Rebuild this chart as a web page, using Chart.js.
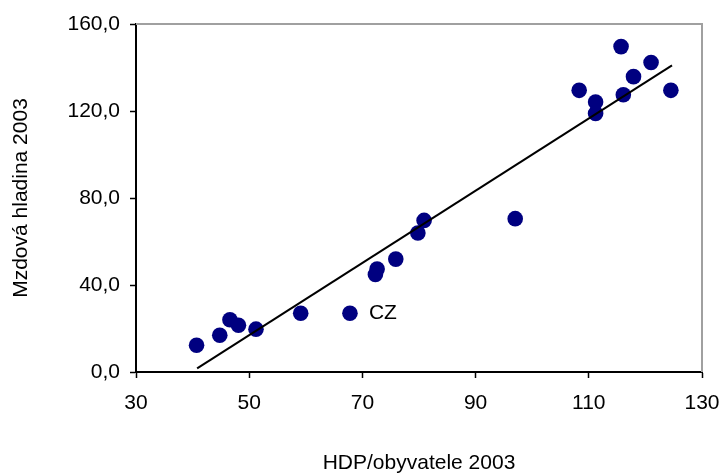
<!DOCTYPE html>
<html>
<head>
<meta charset="utf-8">
<script src="https://cdn.jsdelivr.net/npm/chart.js@4"></script>
<style>
  html, body { margin: 0; padding: 0; background: #fff; }
  #graf { display: block; }
</style>
</head>
<body>
<canvas id="graf" width="721" height="474"></canvas>
<script>
// HDP na obyvatele 2003 (x) a mzdová hladina 2003 (y)
const hdp = [40.7, 44.8, 46.6, 48.1, 51.2, 59.1, 67.8, 72.3, 72.6, 75.9, 79.8,
             80.9, 97.0, 108.3, 111.2, 111.2, 115.7, 116.1, 117.9, 121.0, 124.5];
const mzdy = [12.3, 16.9, 24.0, 21.5, 19.7, 27.0, 27.0, 44.8, 47.3, 51.9, 63.9,
              69.7, 70.5, 129.5, 124.1, 118.9, 149.6, 127.5, 135.8, 142.3, 129.5];
const popisky = ['', '', '', '', '', '', 'CZ', '', '', '', '',
                 '', '', '', '', '', '', '', '', '', ''];

// koncové body lineárního trendu
const trendX = [40.8, 124.7];
const trendY = [1.7, 141.0];

const xTicks = [30, 50, 70, 90, 110, 130];
const yTicks = [0, 40, 80, 120, 160];

const font = { family: '"Liberation Sans", Arial, sans-serif', size: 21 };

// šedý rámeček nahoře a vpravo
const ramecek = {
    id: 'ramecek',
    beforeDatasetsDraw(chart) {
        const { ctx, chartArea: a } = chart;
        ctx.save();
        ctx.strokeStyle = '#a0a0a0';
        ctx.lineWidth = 2;
        ctx.beginPath();
        ctx.moveTo(a.left, a.top);
        ctx.lineTo(a.right, a.top);
        ctx.lineTo(a.right, a.bottom);
        ctx.stroke();
        ctx.restore();
    }
};

// popisek CZ vedle bodu
const popisBodu = {
    id: 'popisBodu',
    afterDatasetsDraw(chart) {
        const meta = chart.getDatasetMeta(1);
        const ctx = chart.ctx;
        ctx.save();
        ctx.font = font.size + 'px ' + font.family;
        ctx.fillStyle = '#000';
        ctx.textAlign = 'left';
        ctx.textBaseline = 'middle';
        popisky.forEach((t, i) => {
            if (!t) return;
            const p = meta.data[i];
            ctx.fillText(t, p.x + 19, p.y);
        });
        ctx.restore();
    }
};

new Chart(document.getElementById('graf'), {
    type: 'scatter',
    data: {
        datasets: [
            {
                type: 'line',
                data: trendX.map((x, i) => ({ x: x, y: trendY[i] })),
                borderColor: '#000',
                borderWidth: 2,
                pointRadius: 0,
                fill: false,
                order: 0
            },
            {
                data: hdp.map((x, i) => ({ x: x, y: mzdy[i] })),
                backgroundColor: '#000080',
                borderWidth: 0,
                pointRadius: 7.8,
                order: 1
            }
        ]
    },
    options: {
        responsive: false,
        animation: false,
        devicePixelRatio: 1,
        layout: { padding: { top: 24, right: 19, left: 0, bottom: 0 } },
        plugins: {
            legend: { display: false },
            tooltip: { enabled: false }
        },
        scales: {
            x: {
                type: 'linear',
                min: 30,
                max: 130,
                afterFit(s) {
                    s.height = 102;
                    s.paddingLeft = 0;
                    s.paddingRight = 0;
                },
                afterBuildTicks(s) { s.ticks = xTicks.map(v => ({ value: v })); },
                grid: { drawOnChartArea: false, drawTicks: true, tickLength: 6, tickColor: '#000', tickWidth: 1.5 },
                border: { color: '#000', width: 2 },
                ticks: { color: '#000', font: font, padding: 13, maxRotation: 0 },
                title: {
                    display: true,
                    text: 'HDP/obyvatele 2003',
                    color: '#000',
                    font: Object.assign({ lineHeight: 1 }, font),
                    padding: { top: 0, bottom: 0 }
                }
            },
            y: {
                type: 'linear',
                min: 0,
                max: 160,
                afterFit(s) {
                    s.width = 136;
                    s.paddingTop = 0;
                    s.paddingBottom = 0;
                },
                afterBuildTicks(s) { s.ticks = yTicks.map(v => ({ value: v })); },
                grid: { drawOnChartArea: false, drawTicks: true, tickLength: 6, tickColor: '#000', tickWidth: 1.5 },
                border: { color: '#000', width: 2 },
                ticks: {
                    color: '#000',
                    font: font,
                    padding: 10,
                    callback: v => v.toFixed(1).replace('.', ',')
                },
                title: {
                    display: true,
                    text: 'Mzdová hladina 2003',
                    color: '#000',
                    font: Object.assign({ lineHeight: 1 }, font),
                    padding: { top: 11, bottom: 0 }
                }
            }
        }
    },
    plugins: [ramecek, popisBodu]
});
</script>
</body>
</html>
